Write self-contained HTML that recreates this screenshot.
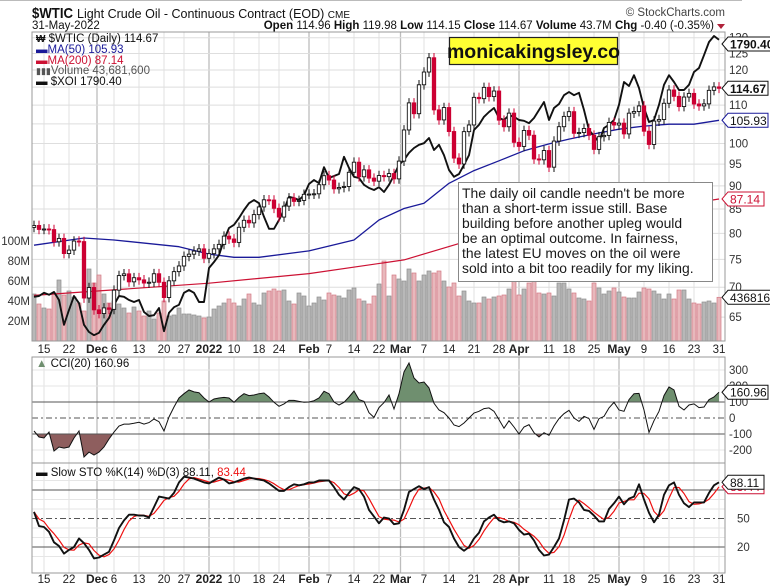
<!DOCTYPE html>
<html><head><meta charset="utf-8">
<style>
html,body{margin:0;padding:0;background:#fff;}
svg{display:block;font-family:"Liberation Sans",Arial,sans-serif;}
</style></head>
<body>
<svg id="chart" width="770" height="588" viewBox="0 0 770 588" xmlns="http://www.w3.org/2000/svg">
  <line x1="0" y1="0.5" x2="742" y2="0.5" stroke="#bbb"/>
  <text x="32" y="18" font-size="15" font-weight="bold" fill="#111" textLength="41" lengthAdjust="spacingAndGlyphs">$WTIC</text>
  <text x="77" y="18" font-size="12.5" fill="#111">Light Crude Oil - Continuous Contract (EOD) <tspan font-size="10">CME</tspan></text>
  <text x="725" y="16" font-size="11.5" fill="#444" text-anchor="end">© StockCharts.com</text>
  <text x="32" y="29" font-size="11.5" fill="#111">31-May-2022</text>
  <text x="714" y="29" font-size="11.5" fill="#111" text-anchor="end"><tspan font-weight="bold">Open</tspan> 114.96  <tspan font-weight="bold">High</tspan> 119.98  <tspan font-weight="bold">Low</tspan> 114.15  <tspan font-weight="bold">Close</tspan> 114.67  <tspan font-weight="bold">Volume</tspan> 43.7M  <tspan font-weight="bold">Chg</tspan> -0.40 (-0.35%)</text>
  <path d="M717,24 L725,24 L721,29 Z" fill="#b0223a"/>
  <g id="g-grid"></g>
  <g id="g-vol"></g>
  <g id="g-main"></g>
  <g id="g-cci"></g>
  <g id="g-sto"></g>
  <g id="g-labels"></g>
</svg>
<script>
// ---------- DATA ----------
const closes = [81.59,80.79,80.88,80.76,78.36,79.01,76.10,76.75,78.50,78.39,68.15,69.95,66.18,
65.57,66.50,66.26,69.49,72.05,72.36,70.94,71.67,71.29,70.73,70.87,72.38,70.86,68.23,71.12,72.76,73.79,75.57,75.98,76.56,76.99,75.21,
76.08,76.99,77.85,79.46,78.90,78.23,81.22,82.64,82.12,83.82,85.43,86.96,86.90,85.14,83.31,85.60,87.35,86.61,86.82,88.15,
88.20,88.26,90.27,92.31,91.32,89.36,89.66,89.88,93.10,95.46,92.07,93.66,91.76,91.07,92.35,92.10,92.81,91.59,95.72,
103.41,110.60,107.67,115.68,119.40,123.70,108.70,106.02,109.33,103.01,96.44,95.04,102.98,104.70,112.12,111.76,114.93,112.34,113.90,105.96,104.24,107.82,100.28,
99.27,103.28,102.06,96.23,96.03,98.26,94.29,100.60,104.25,106.95,108.21,102.56,102.75,103.79,102.07,98.54,101.70,102.02,105.36,104.69,
105.17,102.41,107.81,108.26,109.77,103.09,99.76,105.71,106.13,110.49,114.20,112.40,109.59,112.21,113.23,110.29,109.77,110.33,114.09,115.07,114.67];
const firstOpen = 81.2;
const volumes = [47,37,33,32,48,61,46,50,44,38,30,72,58,66,47,38,40,37,33,28,34,30,25,30,22,28,40,25,26,33,27,27,26,25,23,24,32,35,38,42,
38,35,42,47,38,36,48,50,52,50,51,40,37,48,45,35,38,44,41,48,46,45,43,51,53,42,40,37,45,57,80,45,66,62,60,72,68,60,66,70,
68,70,60,54,58,45,50,40,38,38,44,42,44,45,46,52,60,46,52,58,62,48,47,48,45,58,58,52,48,43,42,40,58,53,47,50,53,49,44,43,
43,49,53,52,50,47,42,47,42,51,51,42,38,37,39,40,38,43.7];
const xoi = [1148,1150,1158,1153,1160,1140,1078,1115,1150,1132,1078,1060,1052,1058,1078,1095,1128,1150,1148,1140,
1135,1140,1110,1100,1102,1120,1062,1108,1122,1128,1158,1165,1158,1135,1135,1220,1235,1252,1290,1320,
1328,1345,1365,1382,1390,1382,1348,1318,1318,1340,1365,1398,1395,1390,1402,1430,1440,1432,1472,1445,
1450,1455,1498,1470,1448,1445,1428,1420,1415,1422,1410,1428,1452,1478,1490,1508,1520,1528,1532,1545,
1515,1528,1502,1465,1448,1455,1478,1502,1565,1578,1598,1610,1620,1595,1590,1602,1598,1590,1588,1582,
1595,1615,1635,1590,1620,1630,1652,1660,1652,1658,1615,1565,1550,1535,1570,1578,1590,1628,1685,1675,
1702,1670,1620,1585,1590,1628,1678,1702,1685,1665,1665,1678,1710,1720,1752,1785,1800,1790.4];
const maIdx = [0,10,16,29,35,40,45,55,64,69,74,78,83,88,93,98,103,107,112,117,122,127,132,137];
const ma50 = [77.7,79.1,78.7,77.4,76.0,75.4,75.4,76.6,78.7,82.7,85.1,86.2,90.6,93.5,95.8,98.2,99.9,101.1,102.4,103.6,104.4,104.9,104.9,105.93];
const ma200Idx = [0,35,55,74,86,110,137];
const ma200 = [68.6,70.7,72.4,74.9,78.3,82.7,87.14];
const cci = [-81,-119,-125,-88,-206,-181,-188,-181,-125,-81,-244,-213,-231,-213,-181,-131,-88,-50,-38,-38,
-33,-27,-38,-29,-6,-23,-81,6,69,125,152,175,163,158,125,100,119,125,129,125,
98,129,152,140,144,152,156,131,98,73,88,110,110,104,98,100,108,125,167,152,
100,81,98,131,169,115,104,33,4,65,96,144,56,152,288,344,250,219,225,188,
92,50,33,0,-44,-54,-31,0,31,42,59,63,42,-10,-64,-17,-56,-100,-56,-42,
-92,-119,-92,-108,-50,-4,27,48,0,-21,10,-4,-71,-4,10,63,98,50,42,115,
152,154,50,-90,-17,42,140,194,175,73,50,81,88,65,69,115,131,160.96];
const stoK = [57,42,41,36,25,21,13,17,20,29,24,17,8,9,12,15,27,40,48,54,
54,53,53,51,62,73,72,71,77,88,94,93,92,90,88,87,90,93,91,87,
88,90,92,93,92,91,90,87,83,79,79,83,86,85,86,88,88,90,90,90,
83,75,70,77,83,81,73,59,52,45,51,50,44,45,59,78,81,84,81,83,
70,59,46,41,29,20,16,20,29,35,47,51,54,48,46,47,45,38,33,34,
27,17,11,12,20,29,48,70,71,67,59,58,53,47,47,60,66,73,65,71,
73,86,70,56,46,54,75,85,88,75,66,62,67,67,67,77,85,88.11];
const dateLabels = ["15","22","Dec","6","13","20","27","2022","10","18","24","Feb","7","14","22","Mar","7","14","21","28","Apr","11","18","25","May","9","16","23","31"];
const dateLabelIdx = [2,7,12.6,16,21,26,30,35,40,45,49,55,59,64,69,73.3,78,83,88,93,97,103,107,112,117,122,127,132,137];
const priceTicks = [130,125,120,115,110,105,100,95,90,85,80,75,70,65];
const volTicks = [20,40,60,80,100];
const cciTicks = [300,200,100,0,-100,-200];
const stoTicks = [50,20];

// ---------- SCALES ----------
const L=32,R=725,MT=32,MB=341,CT=357,CB=463,ST=463,SB=573;
const xOf=i=>34+5*i;
const yP=p=>70+403*Math.log(120/p);
const yV=m=>341-m;
const yX=v=>(1890-v)/2.5;
const yC=c=>418-c*0.16;
const yS=s=>566-0.95*s;
const NS="http://www.w3.org/2000/svg";
function mk(tag,attrs,parent){const e=document.createElementNS(NS,tag);for(const k in attrs)e.setAttribute(k,attrs[k]);parent.appendChild(e);return e;}
const gGrid=document.getElementById('g-grid'),gVol=document.getElementById('g-vol'),gMain=document.getElementById('g-main'),gCci=document.getElementById('g-cci'),gSto=document.getElementById('g-sto'),gLab=document.getElementById('g-labels');
const svg=document.getElementById('chart');
const defs=mk('defs',{},svg);
const cp=mk('clipPath',{id:'clipMain'},defs);mk('rect',{x:L,y:MT,width:R-L,height:MB-MT},cp);
const cp2=mk('clipPath',{id:'clipCci'},defs);mk('rect',{x:L,y:CT,width:R-L,height:CB-CT},cp2);
const cp3=mk('clipPath',{id:'clipSto'},defs);mk('rect',{x:L,y:ST,width:R-L,height:SB-ST},cp3);
gVol.setAttribute('clip-path','url(#clipMain)');gMain.setAttribute('clip-path','url(#clipMain)');

// ---------- GRID ----------
const months=["Dec","2022","Feb","Mar","Apr","May"];
dateLabelIdx.forEach((di,k)=>{
  const x=xOf(di);const isM=months.includes(dateLabels[k]);
  [[MT,MB],[CT,CB],[ST,SB]].forEach(([a,b])=>{
    const ln=mk('line',{x1:x,x2:x,y1:a,y2:b,stroke:isM?'#bdbdbd':'#e0e0e0','stroke-width':isM?1.3:1},gGrid);
    
    
  });
  [353,583].forEach(yy=>{
    const t=mk('text',{x:x,y:yy,'font-size':isM?12:11.5,'font-weight':isM?'bold':'normal','text-anchor':'middle',fill:'#222'},gLab);
    t.textContent=dateLabels[k];
    
    
  });
});
priceTicks.forEach(p=>{
  const y=yP(p);
  const ln=mk('line',{x1:L,x2:R,y1:y,y2:y,stroke:'#dedede'},gGrid);
  
  
  const t=mk('text',{x:729,y:y+4,'font-size':11.5,fill:'#333'},gLab);
  t.textContent=p;
  
  
});
volTicks.forEach(v=>{
  const t=mk('text',{x:30,y:yV(v)+4,'font-size':11.5,fill:'#333','text-anchor':'end'},gLab);
  t.textContent=v+'M';
  
  
});
[10,30,40,60,70,90].forEach(s=>{const ln=mk('line',{x1:L,x2:R,y1:yS(s),y2:yS(s),stroke:'#e6e6e6'},gGrid);
  
  });
cciTicks.forEach(c=>{
  if(Math.abs(c)!==100&&c!==0){const ln=mk('line',{x1:L,x2:R,y1:yC(c),y2:yC(c),stroke:'#e6e6e6'},gGrid);
  
  }
  const t=mk('text',{x:729,y:yC(c)+4,'font-size':11.5,fill:'#333'},gLab);
  t.textContent=c;
  
  
});
stoTicks.forEach(s=>{
  const t=mk('text',{x:737,y:yS(s)+4,'font-size':11.5,fill:'#333'},gLab);
  t.textContent=s;
  
  
});

// ---------- VOLUME ----------
volumes.forEach((v,i)=>{
  const down=i>0&&closes[i]<closes[i-1];
  const r=mk('rect',{x:xOf(i)-2,y:yV(v),width:4,height:v,fill:down?'#e8b8bc':'#b8b8b8',stroke:down?'#d47a86':'#8e8e8e','stroke-width':0.7},gVol);
  
  
});

// ---------- MAs ----------
function poly(idx,vals,yf,color,w,parent,name){
  const pts=idx.map((ix,k)=>xOf(ix)+','+yf(vals[k]).toFixed(1)).join(' ');
  const pl=mk('polyline',{points:pts,fill:'none',stroke:color,'stroke-width':w,'stroke-linejoin':'round'},parent);
  
  
  return pl;
}
poly(ma200Idx,ma200,yP,'#cc1133',1.2,gMain,'ma200-line');
poly(maIdx,ma50,yP,'#1a1a99',1.3,gMain,'ma50-line');
poly(xoi.map((_,i)=>i),xoi,yX,'#111',1.9,gMain,'xoi-line');

// ---------- CANDLES ----------
closes.forEach((c,i)=>{
  const o=i===0?firstOpen:closes[i-1];
  const down=i>0&&c<closes[i-1];
  const col=down?'#cc0033':'#111';
  const hi=Math.max(o,c)*1.012,lo=Math.min(o,c)*0.988;
  const x=xOf(i);
  const w=mk('line',{x1:x,x2:x,y1:yP(hi),y2:yP(lo),stroke:col,'stroke-width':1},gMain);
  
  
  const top=yP(Math.max(o,c)),bot=yP(Math.min(o,c));
  const b=mk('rect',{x:x-1.7,y:top,width:3.4,height:Math.max(1,bot-top),fill:(c<o)?col:'#fff',stroke:col,'stroke-width':0.9},gMain);
  
  
});

// ---------- CCI ----------
(function(){
  const g=mk('g',{'clip-path':'url(#clipCci)'},gCci);
  const pts=cci.map((v,i)=>[xOf(i),yC(v)]);
  const cpA=mk('clipPath',{id:'cciAbove'},defs);mk('rect',{x:L,y:CT,width:R-L,height:yC(100)-CT},cpA);
  const cpB=mk('clipPath',{id:'cciBelow'},defs);mk('rect',{x:L,y:yC(-100),width:R-L,height:CB-yC(-100)},cpB);
  const d='M'+pts.map(p=>p[0]+','+p[1].toFixed(1)).join(' L');
  const fa=mk('path',{d:d+' L'+xOf(cci.length-1)+','+yC(100)+' L'+xOf(0)+','+yC(100)+' Z',fill:'#6f8f6f','clip-path':'url(#cciAbove)'},g);
  
  
  const fb=mk('path',{d:d+' L'+xOf(cci.length-1)+','+yC(-100)+' L'+xOf(0)+','+yC(-100)+' Z',fill:'#8e5e5e','clip-path':'url(#cciBelow)'},g);
  
  
  [[100,''],[-100,''],[0,'6,3,2,3']].forEach(([v,da])=>{
    const ln=mk('line',{x1:L,x2:R,y1:yC(v),y2:yC(v),stroke:'#555','stroke-width':1,'stroke-dasharray':da},g);
    
    
  });
  const ln=mk('path',{d:d,fill:'none',stroke:'#111','stroke-width':1},g);
  
  
})();

// ---------- STO ----------
(function(){
  const g=mk('g',{'clip-path':'url(#clipSto)'},gSto);
  [[80,''],[20,''],[50,'6,3,2,3']].forEach(([v,da])=>{
    const ln=mk('line',{x1:L,x2:R,y1:yS(v),y2:yS(v),stroke:'#555','stroke-width':1,'stroke-dasharray':da},g);
    
    
  });
  const stoD=stoK.map((v,i)=>{const a=stoK.slice(Math.max(0,i-2),i+1);return a.reduce((s,x)=>s+x,0)/a.length;});
  poly(stoD.map((_,i)=>i),stoD,yS,'#ee1111',1.2,g,'sto-d-line');
  poly(stoK.map((_,i)=>i),stoK,yS,'#111',1.9,g,'sto-k-line');
})();

// ---------- PANEL BORDERS ----------
[[MT,MB],[CT,CB],[ST,SB]].forEach(([a,b])=>{
  const r=mk('rect',{x:L,y:a,width:R-L,height:b-a,fill:'none',stroke:'#999','stroke-width':1},gLab);
  
  
});

// ---------- TAGS ----------
function tag(y,txt,col,bold,name,w){
  const g=mk('g',{},gLab);
  
  
  const x=722;
  mk('path',{d:`M${x},${y} L${x+6},${y-7} L${x+6+w},${y-7} L${x+6+w},${y+7} L${x+6},${y+7} Z`,fill:'#fff',stroke:col,'stroke-width':1},g);
  const t=mk('text',{x:x+8,y:y+4.5,'font-size':12,'font-weight':bold?'bold':'normal',fill:col==='#cc1133'?'#cc1133':'#111'},g);
  t.textContent=txt;
}
tag(44,'1790.40','#111',true,'xoi-value-tag',46);
tag(yP(114.67),'114.67','#111',true,'price-value-tag',40);
tag(yP(105.93),'105.93','#1a1a99',false,'ma50-value-tag',40);
tag(yP(87.14),'87.14','#cc1133',false,'ma200-value-tag',36);
tag(yV(43.7),'4368160','#111',false,'volume-value-tag',46);
tag(yC(160.96),'160.96','#111',false,'cci-value-tag',40);
tag(yS(83.44),'83.44','#cc1133',false,'sto-d-value-tag',36);
tag(yS(88.11),'88.11','#111',false,'sto-k-value-tag',36);
</script>
<svg style="position:absolute;left:0;top:0" width="770" height="588">
  <g font-family="Liberation Sans, Arial, sans-serif" font-size="11.5" fill="#111">
    <text x="36" y="42"><tspan font-size="10" font-weight="bold">₩</tspan> $WTIC (Daily) 114.67</text>
    <text x="36" y="53" fill="#1a1a99">▬MA(50) 105.93</text>
    <text x="36" y="64" fill="#cc1133">▬MA(200) 87.14</text>
    <text x="36" y="74" fill="#555"><tspan font-size="9">▮▮▮</tspan>Volume 43,681,600</text>
    <text x="36" y="85">▬ $XOI 1790.40</text>
    <text x="36" y="367"><tspan fill="#6f8f6f">▲</tspan> CCI(20) 160.96</text>
    <text x="36" y="476">▬ Slow STO %K(14) %D(3) 88.11, <tspan fill="#ee1111">83.44</tspan></text>
  </g>
  <rect x="449.5" y="37.5" width="168" height="27" fill="#ffff33" stroke="#222" stroke-width="1.2"/>
  <text x="533.5" y="58" font-family="Liberation Sans, Arial, sans-serif" font-size="19.5" font-weight="bold" text-anchor="middle" fill="#111">monicakingsley.co</text>
  <rect x="458.5" y="182.5" width="254" height="99" fill="#fff" stroke="#888" stroke-width="1"/>
  <g font-family="Liberation Sans, Arial, sans-serif" font-size="13.9" fill="#1a1a1a">
    <text x="462" y="198">The daily oil candle needn't be more</text>
    <text x="462" y="213">than a short-term issue still. Base</text>
    <text x="462" y="228">building before another upleg would</text>
    <text x="462" y="243">be an optimal outcome. In fairness,</text>
    <text x="462" y="258">the latest EU moves on the oil were</text>
    <text x="462" y="273">sold into a bit too readily for my liking.</text>
  </g>
</svg>
</body></html>
